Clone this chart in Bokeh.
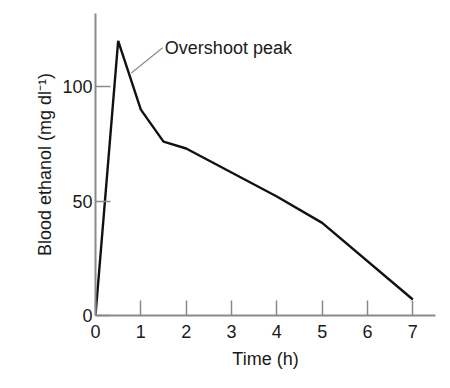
from bokeh.plotting import figure
from bokeh.models import FixedTicker, Label, Range1d
from bokeh.embed import file_html
from bokeh.resources import INLINE

# Data
time_h = [0, 0.5, 1, 1.5, 2, 3, 4, 5, 7]
blood_ethanol = [0, 120, 90, 76, 73, 62.5, 52, 40.5, 7]
x_ticks = [0, 1, 2, 3, 4, 5, 6, 7]
y_ticks = [0, 50, 100]
annotation_text = "Overshoot peak"
leader_x = [0.79, 1.48]
leader_y = [106, 117]

FONT = "Liberation Sans"
AXIS_COLOR = "#8a8a8a"

p = figure(width=446, height=384, output_backend="svg", toolbar_location=None,
           x_range=Range1d(0, 7.5), y_range=Range1d(0, 132),
           min_border_left=95, min_border_right=11, min_border_top=13, min_border_bottom=69)
p.outline_line_color = None
p.xgrid.grid_line_color = None
p.ygrid.grid_line_color = None
p.background_fill_color = "white"
p.border_fill_color = "white"

p.line(time_h, blood_ethanol, line_color="#111111", line_width=2.4)
p.line(leader_x, leader_y, line_color="#8a8a8a", line_width=1.2)

p.add_layout(Label(x=1.53, y=117, text=annotation_text, text_font=FONT,
                   text_font_size="18px", text_color="#1a1a1a",
                   text_baseline="middle", text_align="left"))

for ax, ticks in ((p.xaxis[0], x_ticks), (p.yaxis[0], y_ticks)):
    ax.ticker = FixedTicker(ticks=ticks)
    ax.axis_line_color = AXIS_COLOR
    ax.axis_line_width = 2
    ax.major_tick_line_color = AXIS_COLOR
    ax.major_tick_line_width = 1.5
    ax.major_tick_in = 15
    ax.major_tick_out = 0
    ax.minor_tick_line_color = None
    ax.major_label_text_font = FONT
    ax.major_label_text_font_size = "18px"
    ax.major_label_text_color = "#1a1a1a"
    ax.axis_label_text_font = FONT
    ax.axis_label_text_font_size = "18px"
    ax.axis_label_text_font_style = "normal"
    ax.axis_label_text_color = "#1a1a1a"

p.xaxis.axis_label = "Time (h)"
p.yaxis.axis_label = "Blood ethanol (mg dl\u207b\u00b9)"
p.xaxis.major_label_standoff = 9
p.yaxis.major_label_standoff = 3
p.xaxis.axis_label_standoff = 8
p.yaxis.axis_label_standoff = 4

open("out.html", "w").write(file_html(p, INLINE))
